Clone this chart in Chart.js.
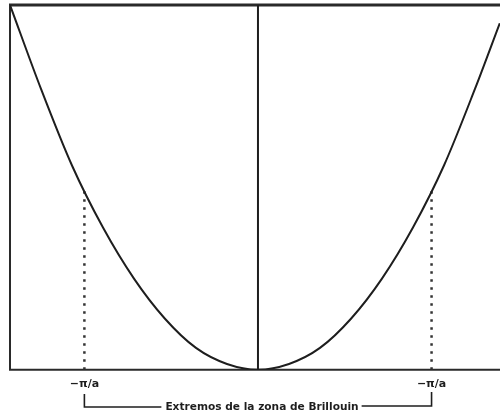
<!DOCTYPE html>
<html>
<head>
<meta charset="utf-8">
<script src="https://cdn.jsdelivr.net/npm/chart.js@4.4.0/dist/chart.umd.min.js"></script>
<style>
  html, body { margin: 0; padding: 0; background: #fff; }
  #wrap { width: 500px; height: 414px; position: relative; }
</style>
</head>
<body>
<div id="wrap"><canvas id="bandChart"></canvas></div>
<script>
// E(k) parabola, free electron band
const kValues = [-1, -0.875, -0.75, -0.625, -0.5, -0.375, -0.25, -0.125, 0, 0.125, 0.25, 0.375, 0.5, 0.625, 0.75, 0.875, 0.975];
const energyValues = [1.0, 0.77, 0.56, 0.39, 0.25, 0.14, 0.06, 0.016, 0, 0.016, 0.06, 0.14, 0.25, 0.39, 0.56, 0.77, 0.95];

// zone edges and their labels
const zoneEdges = [-0.7, 0.7];
const zoneEdgeEnergy = [0.49, 0.49];
const zoneEdgeLabels = ['−π/a', '−π/a'];
const bracketText = 'Extremos de la zona de Brillouin';

const INK = '#1e1e1e';

const framePlugin = {
    id: 'frame',
    beforeDatasetsDraw(chart) {
        const { ctx, chartArea: a } = chart;
        ctx.save();
        ctx.strokeStyle = '#2a2a2a';
        ctx.lineWidth = 3;
        ctx.beginPath();
        ctx.moveTo(a.left - 1, a.top);
        ctx.lineTo(a.right, a.top);
        ctx.stroke();
        ctx.lineWidth = 2;
        ctx.beginPath();
        ctx.moveTo(a.left, a.top);
        ctx.lineTo(a.left, a.bottom);
        ctx.moveTo(a.left - 1, a.bottom);
        ctx.lineTo(a.right, a.bottom);
        ctx.stroke();
        ctx.restore();
    },
    afterDraw(chart) {
        const { ctx } = chart;
        const xs = chart.scales.x;
        const x1 = xs.getPixelForValue(zoneEdges[0]);
        const x2 = xs.getPixelForValue(zoneEdges[1]);
        const yTop = 394, yLine = 407;
        ctx.save();
        ctx.font = 'bold 10.6px "DejaVu Sans", sans-serif';
        ctx.fillStyle = INK;
        ctx.textAlign = 'center';
        ctx.textBaseline = 'middle';
        const cx = 262;
        const tw = ctx.measureText(bracketText).width;
        ctx.fillText(bracketText, cx, yLine);
        ctx.strokeStyle = INK;
        ctx.lineWidth = 1.6;
        ctx.beginPath();
        ctx.moveTo(x1, yTop);
        ctx.lineTo(x1, yLine);
        ctx.lineTo(cx - tw / 2 - 4, yLine);
        ctx.moveTo(cx + tw / 2 + 3, yLine - 1);
        ctx.lineTo(x2, yLine - 1);
        ctx.lineTo(x2, yTop - 2);
        ctx.stroke();
        ctx.restore();
    }
};

const ctx = document.getElementById('bandChart').getContext('2d');
new Chart(ctx, {
    type: 'scatter',
    data: {
        datasets: [
            {
                data: kValues.map((k, i) => ({ x: k, y: energyValues[i] })),
                showLine: true,
                borderColor: INK,
                borderWidth: 2,
                pointRadius: 0,
                cubicInterpolationMode: 'monotone'
            },
            {
                data: [{ x: 0, y: 0 }, { x: 0, y: 1 }],
                showLine: true,
                borderColor: INK,
                borderWidth: 2,
                pointRadius: 0
            },
            ...zoneEdges.map((k, i) => ({
                data: [{ x: k, y: 0 }, { x: k, y: zoneEdgeEnergy[i] }],
                showLine: true,
                borderColor: '#333',
                borderWidth: 2.5,
                borderDash: [2.5, 5.5],
                pointRadius: 0
            }))
        ]
    },
    options: {
        responsive: true,
        maintainAspectRatio: false,
        animation: false,
        layout: { padding: { left: 10, top: 5, right: 0, bottom: 15 } },
        plugins: {
            legend: { display: false },
            tooltip: { enabled: false }
        },
        scales: {
            x: {
                type: 'linear',
                min: -1,
                max: 0.976,
                afterBuildTicks: (axis) => { axis.ticks = zoneEdges.map(v => ({ value: v })); },
                grid: { display: false, drawTicks: false },
                border: { display: false },
                ticks: {
                    padding: 8,
                    color: INK,
                    font: { family: '"DejaVu Sans", sans-serif', size: 11, weight: 'bold' },
                    autoSkip: false,
                    maxRotation: 0,
                    callback: (v, i) => zoneEdgeLabels[i]
                }
            },
            y: {
                display: false,
                min: 0,
                max: 1.0
            }
        }
    },
    plugins: [framePlugin]
});
</script>
</body>
</html>
